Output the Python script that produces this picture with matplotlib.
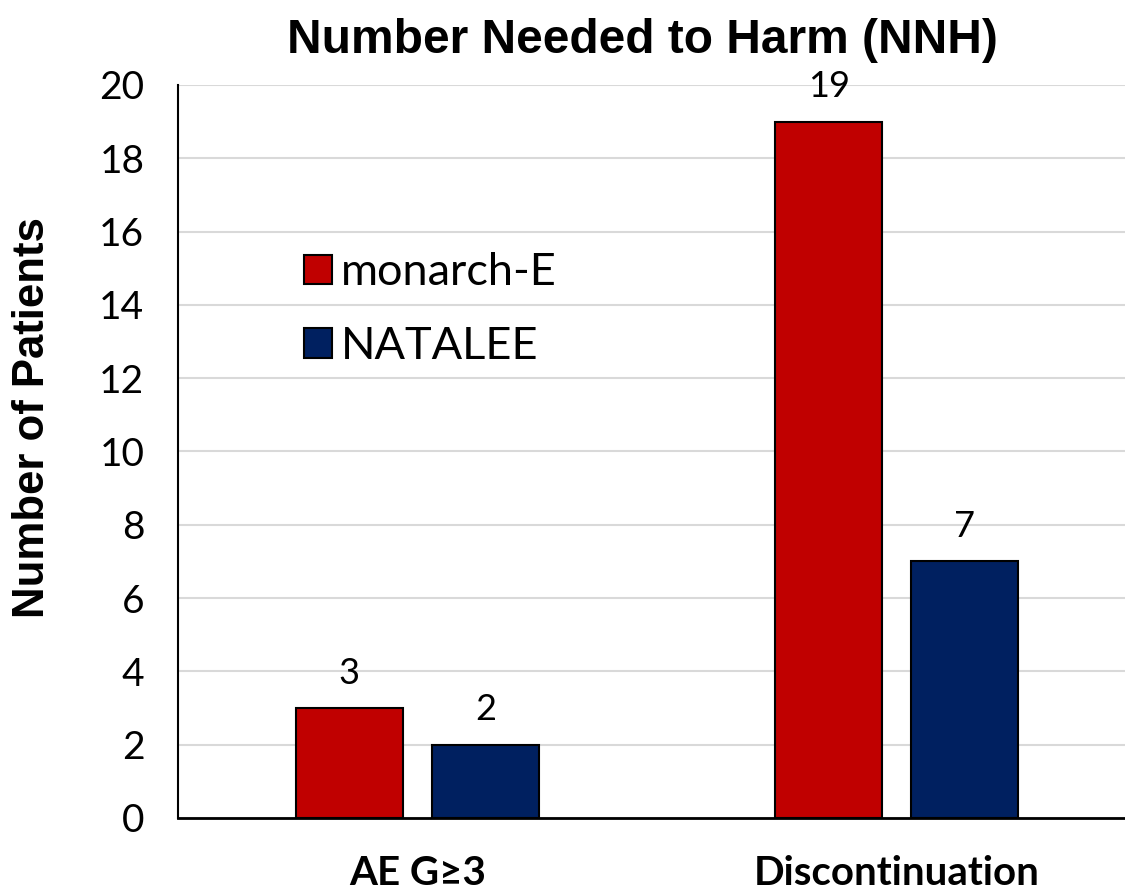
import numpy as np
import matplotlib
matplotlib.use("Agg")
import matplotlib.pyplot as plt
from matplotlib.patches import Patch

# NNH values per endpoint
categories = ["AE G\u22653", "Discontinuation"]
series_names = ["monarch-E", "NATALEE"]
monarch_e = [3, 19]
natalee = [2, 7]
y_ticks = [0, 2, 4, 6, 8, 10, 12, 14, 16, 18, 20]

red = "#C00000"
navy = "#002060"

fig = plt.figure(figsize=(11.25, 8.9), dpi=100)
ax = fig.add_axes([0.158, 0.081, 0.852, 0.8235])

x = np.arange(len(categories))
bw = 0.223
off = 0.142
b1 = ax.bar(x - off, monarch_e, bw, color=red, edgecolor="black", linewidth=1.5, zorder=3)
b2 = ax.bar(x + off, natalee, bw, color=navy, edgecolor="black", linewidth=1.5, zorder=3)

for bars, vals in ((b1, monarch_e), (b2, natalee)):
    for rect, v in zip(bars, vals):
        ax.text(rect.get_x() + rect.get_width() / 2, v + 0.5, str(v),
                ha="center", va="bottom", fontsize=26, family="Lato")

ax.set_xlim(-0.5, 1.5)
ax.set_ylim(0, 20)
ax.set_yticks(y_ticks)
ax.set_yticklabels([str(t) for t in y_ticks], fontsize=28, family="Lato")
ax.tick_params(axis="y", length=0, pad=24)
ax.set_xticks(x)
ax.set_xticklabels(categories, fontsize=29, fontweight="bold", family="Lato")
ax.tick_params(axis="x", length=0, pad=27)

ax.grid(axis="y", color="#d9d9d9", linewidth=1.5, zorder=0)
ax.set_axisbelow(True)
for s in ("top", "right"):
    ax.spines[s].set_visible(False)
ax.spines["left"].set_linewidth(1.5)
ax.spines["bottom"].set_linewidth(2)

# axis title sits a little above the axes' mid-height
fig.text(0.029, 0.531, "Number of Patients", rotation=90, ha="center", va="center",
         fontsize=31.5, fontweight="bold", family="Liberation Sans")
fig.text(0.571, 0.955, "Number Needed to Harm (NNH)", ha="center", va="center",
         fontsize=34.5, fontweight="bold", family="Liberation Sans")

handles = [Patch(facecolor=red, edgecolor="black", linewidth=1.5),
           Patch(facecolor=navy, edgecolor="black", linewidth=1.5)]
leg = ax.legend(handles, series_names, loc="upper left", bbox_to_anchor=(0.089, 0.827),
                frameon=False, prop={"family": "Lato", "size": 32.5},
                handlelength=0.63, handleheight=0.63, handletextpad=0.2, labelspacing=0.72)

fig.savefig("out.png", dpi=100)
